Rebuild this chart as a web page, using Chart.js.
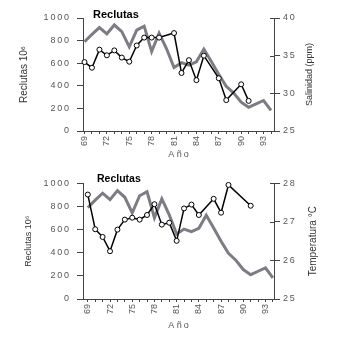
<!DOCTYPE html>
<html>
<head>
<meta charset="utf-8">
<script src="https://cdn.jsdelivr.net/npm/chart.js@4/dist/chart.umd.min.js"></script>
<style>
  body { margin: 0; background: #fff; }
  canvas { display: block; }
</style>
</head>
<body>
<canvas id="salinidad" width="337" height="170"></canvas>
<canvas id="temperatura" width="337" height="171"></canvas>
<script>
const years = [69, 70, 71, 72, 73, 74, 75, 76, 77, 78, 79, 80, 81, 82, 83, 84, 85, 86, 87, 88, 89, 90, 91, 92, 93, 94];
const reclutas = [790, 855, 915, 860, 938, 880, 745, 893, 928, 703, 866, 728, 562, 605, 582, 612, 725, 615, 500, 395, 335, 255, 210, 240, 270, 182];
const salinidad = [34.15, 33.4, 35.8, 35.05, 35.7, 34.75, 34.2, 36.35, 37.4, 37.4, 37.4, null, 38.0, 32.7, 34.4, 31.75, 35.0, null, 32.0, 29.1, null, 31.2, 29.0, null, null, null];
const temperatura = [27.71, 26.81, 26.61, 26.24, 26.8, 27.06, 27.11, 27.06, 27.18, 27.46, 26.93, 26.98, 26.51, 27.35, 27.45, 27.18, null, 27.6, 27.24, 27.96, null, null, 27.42, null, null, null];

const FONT = 'Arial, "Liberation Sans", sans-serif';
const INK = '#555';
const AXIS = '#444';

// digits on the axes are drawn a little apart
function spaced(v) { return String(v).split('').join('\u2009'); }

// heading, right axis title (reading upwards) and inner half of the right ticks
const extras = {
  id: 'extras',
  afterDraw(chart, args, opts) {
    const { ctx, chartArea, scales } = chart;
    ctx.save();
    ctx.strokeStyle = AXIS;
    ctx.lineWidth = 1;
    scales.y1.ticks.forEach(t => {
      const y = Math.round(scales.y1.getPixelForValue(t.value)) + 0.5;
      ctx.beginPath();
      ctx.moveTo(chartArea.right - 4, y);
      ctx.lineTo(chartArea.right, y);
      ctx.stroke();
    });

    ctx.fillStyle = '#000';
    ctx.font = 'bold ' + opts.titleSize + 'px ' + FONT;
    ctx.textBaseline = 'alphabetic';
    ctx.fillText(opts.title, chartArea.left + opts.titleX, chartArea.top + opts.titleY);

    ctx.fillStyle = '#333';
    ctx.font = opts.axisSize + 'px ' + FONT;
    ctx.translate(chart.width - opts.axisOffset, (chartArea.top + chartArea.bottom) / 2);
    ctx.rotate(-Math.PI / 2);
    ctx.textAlign = 'center';
    ctx.textBaseline = 'middle';
    ctx.fillText(opts.axisTitle, 0, 0);
    ctx.restore();
  }
};

function buildChart(id, o) {
  return new Chart(document.getElementById(id), {
    type: 'line',
    data: {
      labels: years,
      datasets: [{
        data: o.values.map((v, i) => ({ x: years[i], y: v })),
        yAxisID: 'y1',
        borderColor: '#000',
        borderWidth: 1.5,
        pointRadius: 2.5,
        pointBorderWidth: 1,
        pointBackgroundColor: '#fff',
        pointBorderColor: '#000',
        spanGaps: true,
        clip: false
      }, {
        data: reclutas.map((v, i) => ({ x: years[i], y: v })),
        yAxisID: 'y',
        borderColor: '#7c7c84',
        borderWidth: 3,
        pointRadius: 0,
        clip: false
      }]
    },
    options: {
      responsive: false,
      animation: false,
      devicePixelRatio: 1,
      layout: { padding: { top: o.top, left: 0, right: 0, bottom: 0 } },
      plugins: {
        legend: { display: false },
        tooltip: { enabled: false },
        extras: o.extras
      },
      scales: {
        x: {
          type: 'linear',
          min: o.xMin,
          max: o.xMax,
          afterFit: s => { s.height = o.xHeight; },
          border: { color: AXIS },
          grid: { drawOnChartArea: false, tickLength: 3, color: AXIS },
          ticks: {
            stepSize: 1,
            includeBounds: false,
            autoSkip: false,
            minRotation: 90,
            maxRotation: 90,
            padding: 2,
            color: INK,
            font: { family: FONT, size: 9 },
            callback: v => ((v - 69) % 3 === 0 ? String(v) : '')
          },
          title: {
            display: true,
            text: 'A ñ\u2009o',
            color: INK,
            font: { family: FONT, size: 9 },
            padding: { top: 0, bottom: 10 }
          }
        },
        y: {
          position: 'left',
          min: 0,
          max: 1000,
          afterFit: s => { s.width = 83; },
          border: { color: AXIS },
          grid: { drawOnChartArea: false, tickLength: 6, color: AXIS },
          ticks: {
            stepSize: 200,
            padding: 8,
            color: INK,
            font: { family: FONT, size: 9 },
            callback: v => spaced(v)
          },
          title: {
            display: true,
            text: 'Reclutas 10⁶',
            color: '#333',
            font: { family: FONT, size: o.leftSize },
            padding: { top: o.leftPad, bottom: 0 }
          }
        },
        y1: {
          position: 'right',
          min: o.yMin,
          max: o.yMax,
          afterFit: s => { s.width = 63; },
          border: { color: AXIS },
          grid: { drawOnChartArea: false, tickLength: 6, color: AXIS },
          ticks: {
            stepSize: o.yStep,
            padding: 3,
            color: INK,
            font: { family: FONT, size: 9 },
            callback: v => spaced(v)
          }
        }
      }
    },
    plugins: [extras]
  });
}

buildChart('salinidad', {
  values: salinidad,
  top: 18, xHeight: 39,
  xMin: 68.8, xMax: 94.4,
  yMin: 25, yMax: 40, yStep: 5,
  leftSize: 10, leftPad: 18,
  extras: { title: 'Reclutas', titleSize: 11, titleX: 10, titleY: 0,
            axisTitle: 'Salinidad (ppm)', axisSize: 9, axisOffset: 27 }
});

buildChart('temperatura', {
  values: temperatura,
  top: 10, xHeight: 42,
  xMin: 68.35, xMax: 94.15,
  yMin: 25, yMax: 28, yStep: 1,
  leftSize: 9, leftPad: 23,
  extras: { title: 'Reclutas', titleSize: 10.5, titleX: 14, titleY: -1,
            axisTitle: 'Temperatura °C', axisSize: 10, axisOffset: 24 }
});
</script>
</body>
</html>
